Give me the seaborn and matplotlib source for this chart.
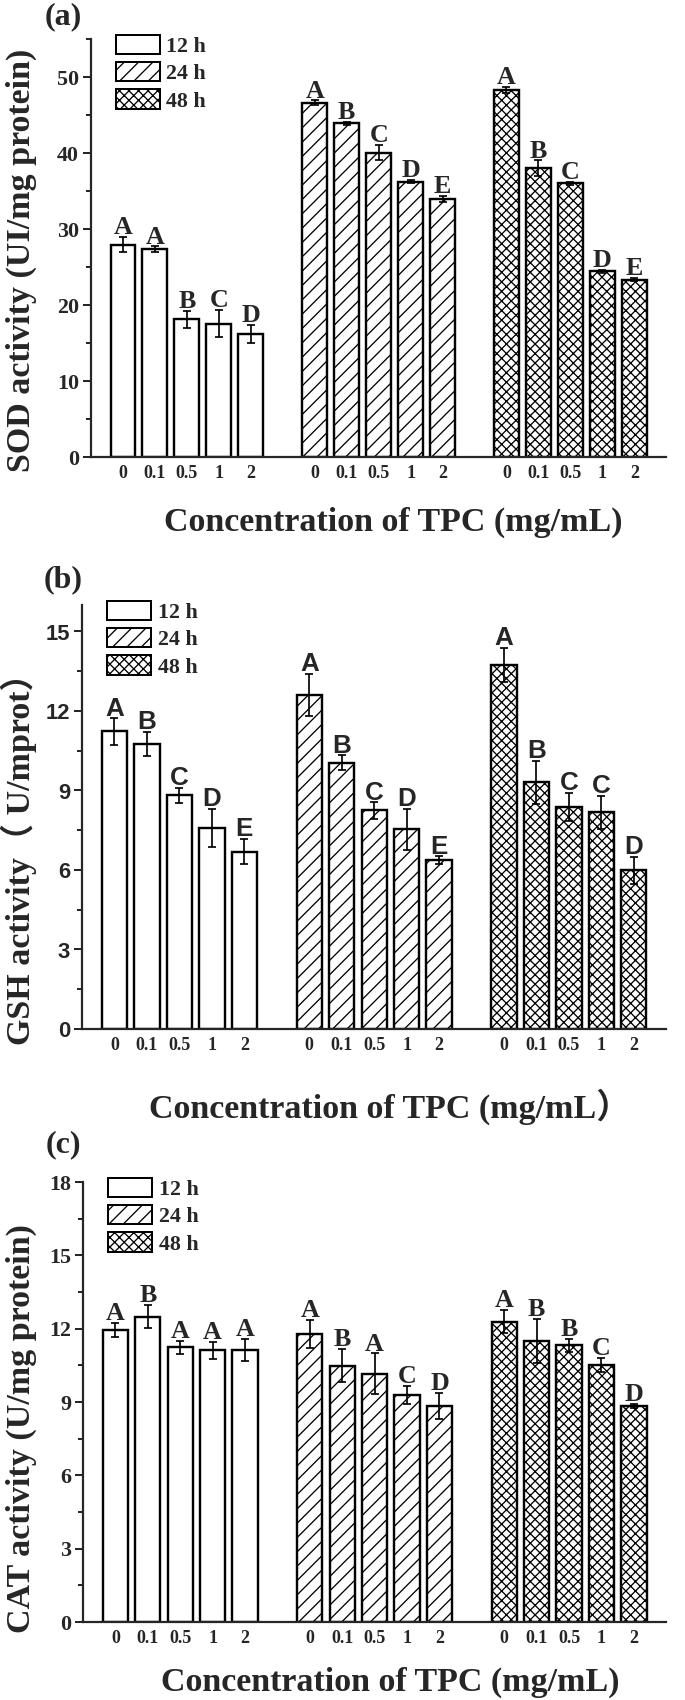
import seaborn as sns
import matplotlib.pyplot as plt
import pandas as pd
from matplotlib.patches import Patch
from matplotlib.ticker import MultipleLocator

# -----------------------------------------------------------
# datos

conc = ['0', '0.1', '0.5', '1', '2']
tiempos = ['12 h', '24 h', '48 h']

sod_12h = [27.9, 27.3, 18.1, 17.5, 16.2]
sod_24h = [46.6, 43.9, 40.0, 36.2, 33.9]
sod_48h = [48.3, 38.0, 36.0, 24.4, 23.3]
sod_12h_sd = [1.0, 0.4, 1.1, 1.8, 1.2]
sod_24h_sd = [0.3, 0.2, 1.0, 0.2, 0.4]
sod_48h_sd = [0.4, 1.0, 0.2, 0.2, 0.2]
sod_letras = [['A', 'A', 'B', 'C', 'D'], ['A', 'B', 'C', 'D', 'E'], ['A', 'B', 'C', 'D', 'E']]

gsh_12h = [11.22, 10.76, 8.82, 7.57, 6.69]
gsh_24h = [12.6, 10.04, 8.24, 7.53, 6.36]
gsh_48h = [13.73, 9.3, 8.37, 8.17, 5.99]
gsh_12h_sd = [0.5, 0.45, 0.28, 0.72, 0.47]
gsh_24h_sd = [0.8, 0.28, 0.31, 0.77, 0.15]
gsh_48h_sd = [0.65, 0.81, 0.53, 0.62, 0.51]
gsh_letras = [['A', 'B', 'C', 'D', 'E'], ['A', 'B', 'C', 'D', 'E'], ['A', 'B', 'C', 'C', 'D']]

cat_12h = [11.94, 12.49, 11.23, 11.11, 11.13]
cat_24h = [11.78, 10.49, 10.16, 9.29, 8.83]
cat_48h = [12.29, 11.5, 11.32, 10.51, 8.84]
cat_12h_sd = [0.29, 0.47, 0.26, 0.35, 0.44]
cat_24h_sd = [0.58, 0.68, 0.83, 0.38, 0.53]
cat_48h_sd = [0.47, 0.9, 0.26, 0.3, 0.09]
cat_letras = [['A', 'B', 'A', 'A', 'A'], ['A', 'B', 'A', 'C', 'D'], ['A', 'B', 'B', 'C', 'D']]

# -----------------------------------------------------------

DPI = 86


def px(v):
    # tamaño en pixeles -> puntos
    return v * 72 / DPI


SERIF = ['Liberation Serif', 'Noto Sans CJK SC']
SANS = ['Liberation Sans', 'Noto Sans CJK SC']
HATCH = {'12 h': '', '24 h': '//', '48 h': 'xxx'}

sns.set_style('ticks')
plt.rcParams['font.family'] = SERIF
plt.rcParams['font.weight'] = 'bold'
plt.rcParams['hatch.linewidth'] = px(1.3)
plt.rcParams['axes.linewidth'] = px(2.2)


def armar_tabla(medias, sds, letras):
    filas = []
    for i, t in enumerate(tiempos):
        for j, c in enumerate(conc):
            filas.append({'pos': i * 6 + j, 'conc': c, 'tiempo': t,
                          'valor': medias[i][j], 'sd': sds[i][j], 'letra': letras[i][j]})
    return pd.DataFrame(filas)


def panel(ax, datos, ylabel, ymax, paso, etiqueta, fuente_letras, fuente_yticks, pos_ylabel, pad_x):
    sns.barplot(data=datos, x='pos', y='valor', hue='tiempo', native_scale=True, dodge=False,
                width=0.78, palette=['white'] * 3, edgecolor='black', linewidth=px(2.4),
                errorbar=None, legend=False, ax=ax)
    hatch_pos = dict(zip(datos['pos'], datos['tiempo'].map(HATCH)))
    for barra in ax.patches:
        cx = round(barra.get_x() + barra.get_width() / 2)
        barra.set_hatch(hatch_pos.get(cx, ''))
        barra.set_facecolor('white')
        barra.set_edgecolor('black')

    ax.errorbar(datos['pos'], datos['valor'], yerr=datos['sd'], fmt='none', ecolor='black',
                elinewidth=px(1.7), capsize=px(4), capthick=px(1.7), zorder=5)

    for _, f in datos.iterrows():
        ax.annotate(f['letra'], (f['pos'], f['valor'] + f['sd']), xytext=(0, px(3)),
                    textcoords='offset points', ha='center', va='baseline',
                    fontsize=px(26), fontweight='bold', family=fuente_letras)

    ax.set_xlim(-1, 17)
    ax.set_ylim(0, ymax)
    ax.set_xticks(datos['pos'])
    ax.set_xticklabels(datos['conc'], fontsize=px(18), fontweight='bold', family=SERIF)
    ax.yaxis.set_major_locator(MultipleLocator(paso))
    ax.yaxis.set_minor_locator(MultipleLocator(paso / 2))
    for lab in ax.get_yticklabels():
        lab.set_family(fuente_yticks)
        lab.set_fontsize(px(22))
        lab.set_fontweight('bold')
    ax.tick_params(axis='x', length=0, pad=px(8))
    ax.tick_params(axis='y', which='major', direction='out', length=px(8), width=px(2), pad=px(4))
    ax.tick_params(axis='y', which='minor', direction='out', length=px(5), width=px(2))
    sns.despine(ax=ax)

    ax.set_ylabel(ylabel, fontsize=px(34), fontweight='bold', family=SERIF)
    ax.yaxis.set_label_coords(*pos_ylabel)
    ax.set_xlabel(etiqueta, fontsize=px(34), fontweight='bold', family=SERIF, labelpad=px(pad_x))
    ax.xaxis.label.set_x(0.526)

    manejadores = [Patch(facecolor='white', edgecolor='black', hatch=HATCH[t], linewidth=px(2), label=t)
                   for t in tiempos]
    ax.legend(handles=manejadores, loc='upper left', bbox_to_anchor=(0.043, 1.01), frameon=False,
              prop={'family': SERIF, 'weight': 'bold', 'size': px(22)}, handlelength=2.0,
              handleheight=1.0, labelspacing=0.22, handletextpad=0.3, borderpad=0, borderaxespad=0)


fig = plt.figure(figsize=(685.3 / DPI, 1700.3 / DPI), dpi=DPI)
W, H = 685, 1700
ax_a = fig.add_axes([91 / W, 1 - 457 / H, 575 / W, 418 / H])
ax_b = fig.add_axes([82 / W, 1 - 1029 / H, 584 / W, 424 / H])
ax_c = fig.add_axes([83 / W, 1 - 1622 / H, 583 / W, 440 / H])

tabla_sod = armar_tabla([sod_12h, sod_24h, sod_48h], [sod_12h_sd, sod_24h_sd, sod_48h_sd], sod_letras)
tabla_gsh = armar_tabla([gsh_12h, gsh_24h, gsh_48h], [gsh_12h_sd, gsh_24h_sd, gsh_48h_sd], gsh_letras)
tabla_cat = armar_tabla([cat_12h, cat_24h, cat_48h], [cat_12h_sd, cat_24h_sd, cat_48h_sd], cat_letras)

panel(ax_a, tabla_sod, 'SOD activity (UI/mg protein)', 55, 10,
      'Concentration of TPC (mg/mL)', SERIF, SERIF, (-0.094, 0.47), 25)
panel(ax_b, tabla_gsh, 'GSH activity\uff08 U/mprot\uff09', 16, 3,
      'Concentration of TPC (mg/mL\uff09', SANS, SANS, (-0.077, 0.42), 34)
panel(ax_c, tabla_cat, 'CAT activity (U/mg protein)', 18, 3,
      'Concentration of TPC (mg/mL)', SERIF, SERIF, (-0.079, 0.44), 19)

for letra, y in [('(a)', 17), ('(b)', 580), ('(c)', 1145)]:
    fig.text(63 / W, 1 - y / H, letra, ha='center', va='center', fontsize=px(32),
             fontweight='bold', family=SERIF)

fig.savefig('out.png', dpi=DPI)
